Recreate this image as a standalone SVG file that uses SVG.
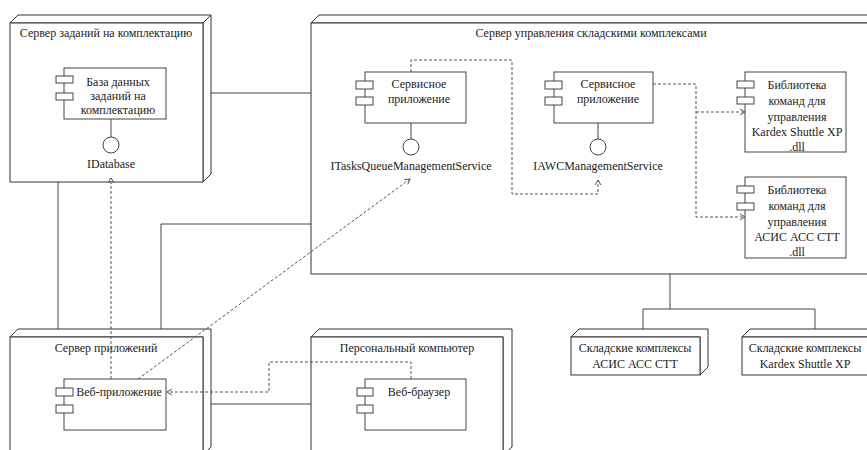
<svg xmlns="http://www.w3.org/2000/svg" width="867" height="450" viewBox="0 0 867 450">
  <style>
    .node { fill: #ffffff; stroke: #333333; stroke-width: 1; }
    .comp { fill: #ffffff; stroke: #444444; stroke-width: 1; }
    .port { fill: #ffffff; stroke: #444444; stroke-width: 1; }
    .iface { fill: #ffffff; stroke: #444444; stroke-width: 1; }
    .solid { fill: none; stroke: #444444; stroke-width: 1; }
    .dash { fill: none; stroke: #555555; stroke-width: 1; stroke-dasharray: 3 2; }
    text { font-family: "Liberation Serif", "Times New Roman", serif; font-size: 12px; fill: #222222; text-anchor: middle; }
  </style>
  <defs>
    <marker id="open" markerWidth="8" markerHeight="8" refX="6" refY="4" orient="auto" markerUnits="userSpaceOnUse">
      <path d="M1,1 L6,4 L1,7" fill="none" stroke="#555555" stroke-width="1"/>
    </marker>
  </defs>

  <rect width="867" height="450" fill="#ffffff"/>

  <!-- connectors -->
  <g id="connectors">
    <path class="solid" d="M203,93 H311"/>
    <path class="solid" d="M58,182 V329"/>
    <path class="solid" d="M161,329 V224 H311"/>
    <path class="solid" d="M211,404 H311"/>
    <path class="solid" d="M670,274 V309"/>
    <path class="solid" d="M643,329 V309 H815 V329"/>
  </g>

  <!-- node: Сервер заданий на комплектацию -->
  <g id="node-tasks-server">
    <path class="node" d="M10,23 L18,15 H211 V174 L203,182 V23 Z M203,23 L211,15"/>
    <rect class="node" x="10" y="23" width="193" height="159"/>
    <text x="106" y="37">Сервер заданий на комплектацию</text>
    <g id="comp-db">
      <rect class="comp" x="64" y="68" width="102" height="51"/>
      <rect class="port" x="56" y="76" width="17" height="7"/>
      <rect class="port" x="56" y="93" width="17" height="7"/>
      <text x="118" y="86">База данных</text>
      <text x="118" y="100">заданий на</text>
      <text x="118" y="114">комплектацию</text>
      <path class="solid" d="M111,119 V137"/>
      <circle class="iface" cx="111" cy="145" r="8"/>
      <text x="111" y="168">IDatabase</text>
    </g>
  </g>

  <!-- node: Сервер управления складскими комплексами -->
  <g id="node-warehouse-server">
    <path class="node" d="M311,23 L319,15 H880 V266 L871,274 V23 Z"/>
    <rect class="node" x="311" y="23" width="560" height="251"/>
    <text x="591" y="37">Сервер управления складскими комплексами</text>
    <g id="comp-service-a">
      <rect class="comp" x="365" y="72" width="101" height="51"/>
      <rect class="port" x="356" y="81" width="17" height="8"/>
      <rect class="port" x="356" y="97" width="17" height="8"/>
      <text x="419" y="88">Сервисное</text>
      <text x="419" y="103">приложение</text>
      <path class="solid" d="M411,123 V139"/>
      <circle class="iface" cx="411" cy="147" r="8"/>
      <text x="411" y="170">ITasksQueueManagementService</text>
    </g>
    <g id="comp-service-b">
      <rect class="comp" x="554" y="72" width="99" height="51"/>
      <rect class="port" x="545" y="81" width="17" height="8"/>
      <rect class="port" x="545" y="97" width="17" height="8"/>
      <text x="608" y="88">Сервисное</text>
      <text x="608" y="103">приложение</text>
      <path class="solid" d="M598,123 V139"/>
      <circle class="iface" cx="598" cy="147" r="8"/>
      <text x="598" y="170">IAWCManagementService</text>
    </g>
    <g id="comp-lib-kardex">
      <rect class="comp" x="745" y="72" width="101" height="80"/>
      <rect class="port" x="737" y="81" width="17" height="7"/>
      <rect class="port" x="737" y="97" width="17" height="7"/>
      <text x="797" y="89">Библиотека</text>
      <text x="797" y="105">команд для</text>
      <text x="797" y="121">управления</text>
      <text x="797" y="136">Kardex Shuttle XP</text>
      <text x="797" y="151">.dll</text>
    </g>
    <g id="comp-lib-asis">
      <rect class="comp" x="745" y="177" width="101" height="81"/>
      <rect class="port" x="737" y="186" width="17" height="7"/>
      <rect class="port" x="737" y="203" width="17" height="7"/>
      <text x="797" y="194">Библиотека</text>
      <text x="797" y="210">команд для</text>
      <text x="797" y="226">управления</text>
      <text x="797" y="241">АСИС АСС СТТ</text>
      <text x="797" y="256">.dll</text>
    </g>
  </g>

  <!-- node: Сервер приложений -->
  <g id="node-app-server">
    <path class="node" d="M10,337 L18,329 H211 V447 L203,455 V337 Z"/>
    <rect class="node" x="10" y="337" width="193" height="118"/>
    <text x="106" y="352">Сервер приложений</text>
    <g id="comp-webapp">
      <rect class="comp" x="64" y="379" width="102" height="51"/>
      <rect class="port" x="56" y="388" width="17" height="8"/>
      <rect class="port" x="56" y="405" width="17" height="8"/>
      <text x="119" y="396">Веб-приложение</text>
    </g>
  </g>

  <!-- node: Персональный компьютер -->
  <g id="node-pc">
    <path class="node" d="M311,337 L319,329 H512 V447 L503,455 V337 Z"/>
    <rect class="node" x="311" y="337" width="192" height="118"/>
    <text x="407" y="352">Персональный компьютер</text>
    <g id="comp-browser">
      <rect class="comp" x="365" y="379" width="101" height="51"/>
      <rect class="port" x="357" y="388" width="16" height="8"/>
      <rect class="port" x="357" y="405" width="16" height="8"/>
      <text x="419" y="396">Веб-браузер</text>
    </g>
  </g>

  <!-- node: Складские комплексы АСИС АСС СТТ -->
  <g id="node-asis">
    <path class="node" d="M571,337 L579,329 H708 V367 L700,375 V337 Z"/>
    <rect class="node" x="571" y="337" width="129" height="38"/>
    <text x="635" y="352">Складские комплексы</text>
    <text x="635" y="368">АСИС АСС СТТ</text>
  </g>

  <!-- node: Складские комплексы Kardex Shuttle XP -->
  <g id="node-kardex">
    <path class="node" d="M742,337 L750,329 H880 V367 L872,375 V337 Z"/>
    <rect class="node" x="742" y="337" width="130" height="38"/>
    <text x="805" y="352">Складские комплексы</text>
    <text x="805" y="368">Kardex Shuttle XP</text>
  </g>

  <!-- dependencies -->
  <g id="dependencies">
    <path class="dash" d="M411,72 V60 H512 V194 H598 V180" marker-end="url(#open)"/>
    <path class="dash" d="M653,84 H696 V217 H745" marker-end="url(#open)"/>
    <path class="dash" d="M696,112 H745" marker-end="url(#open)"/>
    <path class="dash" d="M111,379 V178" marker-end="url(#open)"/>
    <path class="dash" d="M138,379 L410,179" marker-end="url(#open)"/>
    <path class="dash" d="M411,379 V362 H269 V392 H167" marker-end="url(#open)"/>
  </g>
</svg>
